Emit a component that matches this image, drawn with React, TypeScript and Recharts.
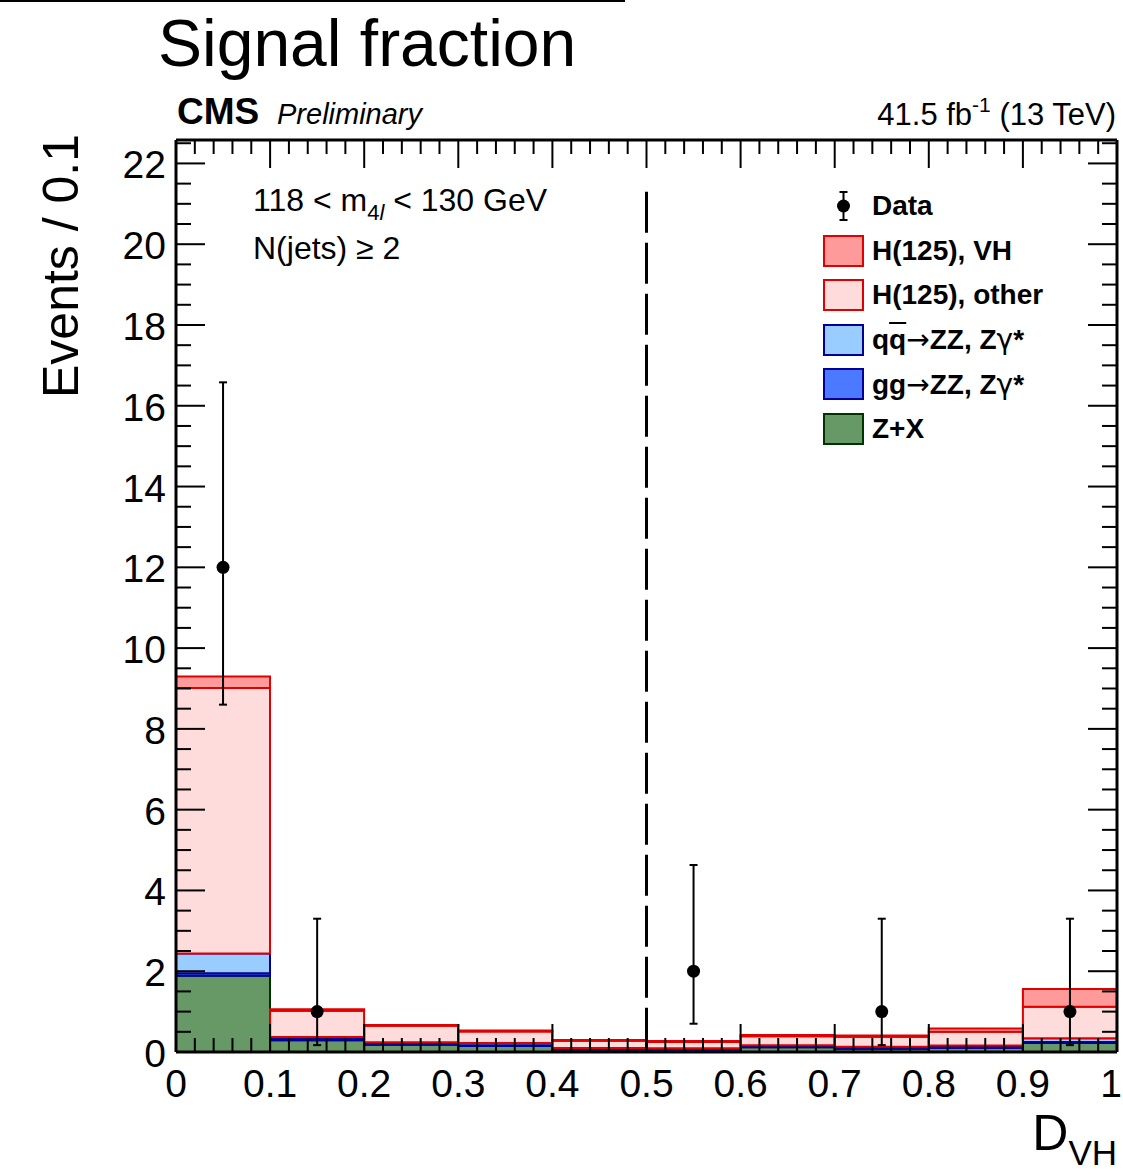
import React from 'react';
import { Bar, ComposedChart, ErrorBar, Legend, ReferenceLine, Scatter, XAxis, YAxis } from 'recharts';

// D_VH bins (centres) and stacked expectations per bin
const binCenters = [0.05, 0.15, 0.25, 0.35, 0.45, 0.55, 0.65, 0.75, 0.85, 0.95];
const zxValues = [1.89, 0.29, 0.18, 0.15, 0.06, 0.05, 0.12, 0.08, 0.1, 0.22];
const ggValues = [0.06, 0.03, 0.02, 0.02, 0.01, 0.01, 0.01, 0.01, 0.01, 0.03];
const qqValues = [0.49, 0.05, 0.04, 0.05, 0.03, 0.03, 0.04, 0.04, 0.05, 0.09];
const otherValues = [6.57, 0.65, 0.41, 0.29, 0.18, 0.16, 0.22, 0.25, 0.34, 0.78];
const vhValues = [0.29, 0.04, 0.02, 0.02, 0.02, 0.02, 0.03, 0.03, 0.08, 0.44];

// observed events with Poisson intervals
const dataCounts = [12, 1, 0, 0, 0, 2, 0, 1, 0, 1];
const dataLow = [8.6, 0.17, 0, 0, 0, 0.7, 0, 0.17, 0, 0.17];
const dataHigh = [16.58, 3.3, 0, 0, 0, 4.63, 0, 3.3, 0, 3.3];

const xMajorLabels = ['0', '0.1', '0.2', '0.3', '0.4', '0.5', '0.6', '0.7', '0.8', '0.9', '1'];
const yMajorLabels = ['0', '2', '4', '6', '8', '10', '12', '14', '16', '18', '20', '22'];

const cutValue = 0.5;
const cutLineTop = 21.3;
const yMax = 22.58;

const xTicks = Array.from({ length: 51 }, (_, i) => i / 50);
const yTicks = Array.from({ length: 46 }, (_, i) => i / 2);

const histo = binCenters.map((x, i) => ({
  x,
  zx: zxValues[i],
  gg: ggValues[i],
  qq: qqValues[i],
  other: otherValues[i],
  vh: vhValues[i]
}));

const points = binCenters
  .map((x, i) => ({ x, y: dataCounts[i], err: [dataCounts[i] - dataLow[i], dataHigh[i] - dataCounts[i]] }))
  .filter((p) => p.y > 0);

const series = [
  { key: 'zx', label: 'Z+X', fill: '#669966', stroke: '#003300' },
  { key: 'gg', label: 'gg', fill: '#4b79ff', stroke: '#000099' },
  { key: 'qq', label: 'qq', fill: '#99ccff', stroke: '#000099' },
  { key: 'other', label: 'H(125), other', fill: '#ffdcdc', stroke: '#e00000' },
  { key: 'vh', label: 'H(125), VH', fill: '#ff9a9a', stroke: '#e00000' }
];

const FONT = '"Liberation Sans", Arial, Helvetica, sans-serif';
const W = 1123;
const H = 1176;

const near = (v: number, step: number) => Math.abs(v / step - Math.round(v / step)) < 1e-6;

const BottomTick = (props: any) => {
  const { x, y, payload } = props;
  const v = payload.value;
  const major = near(v, 0.1);
  const idx = Math.round(v * 10);
  const last = idx === 10;
  return (
    <g>
      <line x1={x} x2={x} y1={y} y2={y - (major ? 28 : 14)} stroke="#000" strokeWidth={2} />
      {major && (
        <text
          x={last ? x + 5 : x}
          y={y + 45}
          textAnchor={last ? 'end' : 'middle'}
          fontSize={39}
          fontFamily={FONT}
          fill="#000"
        >
          {xMajorLabels[idx]}
        </text>
      )}
    </g>
  );
};

const TopTick = (props: any) => {
  const { x, y, payload } = props;
  const major = near(payload.value, 0.1);
  return <line x1={x} x2={x} y1={y} y2={y + (major ? 28 : 14)} stroke="#000" strokeWidth={2} />;
};

const LeftTick = (props: any) => {
  const { x, y, payload } = props;
  const v = payload.value;
  const major = near(v, 2);
  return (
    <g>
      <line x1={x} x2={x + (major ? 29 : 15)} y1={y} y2={y} stroke="#000" strokeWidth={2} />
      {major && (
        <text x={x - 10} y={y + 15} textAnchor="end" fontSize={39} fontFamily={FONT} fill="#000">
          {yMajorLabels[Math.round(v / 2)]}
        </text>
      )}
    </g>
  );
};

const RightTick = (props: any) => {
  const { x, y, payload } = props;
  const major = near(payload.value, 2);
  return <line x1={x} x2={x - (major ? 29 : 15)} y1={y} y2={y} stroke="#000" strokeWidth={2} />;
};

const SYM: React.CSSProperties = { fontWeight: 400, fontFamily: '"DejaVu Sans", sans-serif' };

const legendRows = [
  { name: 'H(125), VH', fill: '#ff9a9a', stroke: '#e00000' },
  { name: 'H(125), other', fill: '#ffdcdc', stroke: '#e00000' },
  {
    name: (
      <>
        q<span style={{ textDecoration: 'overline' }}>q</span>
        <span style={SYM}>→</span>ZZ, Z<span style={SYM}>γ</span>*
      </>
    ),
    fill: '#99ccff',
    stroke: '#000099'
  },
  {
    name: (
      <>
        gg<span style={SYM}>→</span>ZZ, Z<span style={SYM}>γ</span>*
      </>
    ),
    fill: '#4b79ff',
    stroke: '#000099'
  },
  { name: 'Z+X', fill: '#669966', stroke: '#003300' }
];

const LegendBox = () => {
  const row: React.CSSProperties = { display: 'flex', alignItems: 'center', height: 44.5 };
  const txt: React.CSSProperties = { fontFamily: FONT, fontWeight: 700, fontSize: 28, color: '#000', marginLeft: 8 };
  return (
    <div>
      <div style={row}>
        <svg width={41} height={32}>
          <line x1={20.5} x2={20.5} y1={2} y2={30} stroke="#000" strokeWidth={2} />
          <line x1={16.5} x2={24.5} y1={2} y2={2} stroke="#000" strokeWidth={2} />
          <line x1={16.5} x2={24.5} y1={30} y2={30} stroke="#000" strokeWidth={2} />
          <circle cx={20.5} cy={16} r={6.5} fill="#000" />
        </svg>
        <span style={txt}>Data</span>
      </div>
      {legendRows.map((r, i) => (
        <div key={i} style={row}>
          <div
            style={{
              width: 41,
              height: 32,
              boxSizing: 'border-box',
              background: r.fill,
              border: `2px solid ${r.stroke}`
            }}
          />
          <span style={txt}>{r.name}</span>
        </div>
      ))}
    </div>
  );
};

export default function App() {
  return (
    <div style={{ position: 'relative', width: W, height: H, background: '#fff' }}>
      <style>{'body{margin:0;background:#fff}'}</style>
      <ComposedChart
        width={W}
        height={H}
        data={histo}
        margin={{ top: 130, right: 0, bottom: 60, left: 120 }}
        barCategoryGap={0}
        barGap={0}
      >
        <XAxis
          dataKey="x"
          type="number"
          domain={[0, 1]}
          ticks={xTicks}
          interval={0}
          height={64}
          tickSize={0}
          tickMargin={0}
          tickLine={false}
          tick={<BottomTick />}
          axisLine={{ stroke: '#000', strokeWidth: 3 }}
          allowDataOverflow
        />
        <XAxis
          xAxisId="top"
          orientation="top"
          dataKey="x"
          type="number"
          domain={[0, 1]}
          ticks={xTicks}
          interval={0}
          height={10}
          tickSize={0}
          tickMargin={0}
          tickLine={false}
          tick={<TopTick />}
          axisLine={{ stroke: '#000', strokeWidth: 3 }}
          allowDataOverflow
        />
        <YAxis
          type="number"
          domain={[0, yMax]}
          ticks={yTicks}
          interval={0}
          width={56}
          tickSize={0}
          tickMargin={0}
          tickLine={false}
          tick={<LeftTick />}
          axisLine={{ stroke: '#000', strokeWidth: 3 }}
          allowDataOverflow
        />
        <YAxis
          yAxisId="right"
          orientation="right"
          type="number"
          domain={[0, yMax]}
          ticks={yTicks}
          interval={0}
          width={6}
          tickSize={0}
          tickMargin={0}
          tickLine={false}
          tick={<RightTick />}
          axisLine={{ stroke: '#000', strokeWidth: 3 }}
          allowDataOverflow
        />
        {series.map((s) => (
          <Bar
            key={s.key}
            dataKey={s.key}
            name={s.label}
            stackId="mc"
            fill={s.fill}
            stroke={s.stroke}
            strokeWidth={2}
            isAnimationActive={false}
          />
        ))}
        <ReferenceLine
          segment={[
            { x: cutValue, y: cutLineTop },
            { x: cutValue, y: 0 }
          ]}
          stroke="#000"
          strokeWidth={3}
          strokeDasharray="41 10"
        />
        <Scatter
          data={points}
          dataKey="y"
          name="Data"
          fill="#000"
          isAnimationActive={false}
          shape={(p: any) => <circle cx={p.cx} cy={p.cy} r={6.5} fill="#000" />}
        >
          <ErrorBar dataKey="err" direction="y" width={4} stroke="#000" strokeWidth={2} isAnimationActive={false} />
        </Scatter>
        <Legend
          layout="vertical"
          align="center"
          verticalAlign="middle"
          content={<LegendBox />}
          wrapperStyle={{ position: 'absolute', left: 823, top: 184, width: 300 }}
        />
      </ComposedChart>
      <svg
        width={W}
        height={H}
        style={{ position: 'absolute', left: 0, top: 0, pointerEvents: 'none' }}
        fontFamily={FONT}
      >
        <line x1={0} x2={625} y1={1} y2={1} stroke="#000" strokeWidth={2} />
        <text x={158} y={66} fontSize={66} fill="#000">
          Signal fraction
        </text>
        <text x={177} y={124} fontSize={37} fontWeight={700} fill="#000">
          CMS
        </text>
        <text x={277} y={124} fontSize={29} fontStyle="italic" fill="#000">
          Preliminary
        </text>
        <text x={1116} y={125} fontSize={31} textAnchor="end" fill="#000">
          41.5 fb
          <tspan fontSize={21} dy={-13}>
            -1
          </tspan>
          <tspan dy={13}> (13 TeV)</tspan>
        </text>
        <text x={78} y={266} fontSize={50} textAnchor="middle" transform="rotate(-90 78 266)" fill="#000">
          Events / 0.1
        </text>
        <text x={1117} y={1150} fontSize={50} textAnchor="end" fill="#000">
          D
          <tspan fontSize={35} dy={15}>
            VH
          </tspan>
        </text>
        <text x={253} y={211} fontSize={32} fill="#000">
          118 &lt; m
          <tspan fontSize={22} dy={9}>
            4
          </tspan>
          <tspan fontSize={22} fontStyle="italic">
            l
          </tspan>
          <tspan dy={-9}> &lt; 130 GeV</tspan>
        </text>
        <text x={253} y={259} fontSize={32} fill="#000">
          N(jets) ≥ 2
        </text>
      </svg>
    </div>
  );
}
